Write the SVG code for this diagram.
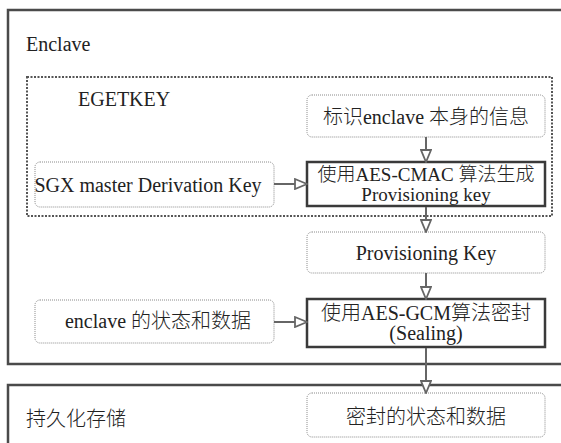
<svg xmlns="http://www.w3.org/2000/svg" width="561" height="443" viewBox="0 0 561 443">
  <defs>
    <marker id="head" viewBox="0 0 14 12" refX="13" refY="6" markerWidth="14" markerHeight="12" markerUnits="userSpaceOnUse" orient="auto">
      <path d="M1,1 L13,6 L1,11 Z" fill="#fff" stroke="#666" stroke-width="1.8" stroke-linejoin="miter"/>
    </marker>
    <style>
      text { font-family: "Liberation Serif", "Noto Sans CJK SC", serif; font-size: 20px; fill: #222; }
      .zh { font-family: "Noto Sans CJK SC", "Liberation Serif", sans-serif; font-weight: 300; }
      .tight { font-size: 19px; }
      .mid { text-anchor: middle; }
      .frame { fill: none; stroke: #4a4a4a; stroke-width: 2.5; }
      .group { fill: none; stroke: #555; stroke-width: 2; stroke-dasharray: 2 1.5; }
      .soft { fill: #fff; stroke: #8a8a8a; stroke-width: 1; stroke-dasharray: 1 1; }
      .strong { fill: #fff; stroke: #3a3a3a; stroke-width: 2.5; }
      .link { fill: none; stroke: #666; stroke-width: 2; marker-end: url(#head); }
    </style>
  </defs>

  <rect width="561" height="443" fill="#fff"/>

  <!-- enclave container -->
  <g id="enclave">
    <rect class="frame" x="8" y="10" width="570" height="354"/>
    <text x="26" y="51">Enclave</text>
  </g>

  <!-- key derivation group -->
  <g id="egetkey">
    <rect class="group" x="27" y="77" width="525" height="139"/>
    <text x="78" y="106">EGETKEY</text>
  </g>

  <!-- persistent storage container -->
  <g id="storage">
    <rect class="frame" x="8" y="385" width="570" height="70"/>
    <text x="26" y="426"><tspan class="zh">持久化存储</tspan></text>
  </g>

  <g id="identity">
    <rect class="soft" x="307" y="95" width="238" height="42" rx="5"/>
    <text class="mid" x="426" y="124"><tspan class="zh">标识</tspan>enclave <tspan class="zh">本身的信息</tspan></text>
  </g>

  <g id="master-key">
    <rect class="soft" x="35" y="162" width="239" height="45" rx="5"/>
    <text class="mid" x="148" y="192">SGX master Derivation Key</text>
  </g>

  <g id="cmac">
    <rect class="strong" x="307" y="162" width="238" height="44"/>
    <text class="mid tight" x="426" y="181"><tspan class="zh">使用</tspan>AES-CMAC <tspan class="zh">算法生成</tspan></text>
    <text class="mid tight" x="426" y="201">Provisioning key</text>
  </g>

  <g id="provisioning-key">
    <rect class="soft" x="307" y="232" width="238" height="41" rx="5"/>
    <text class="mid" x="426" y="260">Provisioning Key</text>
  </g>

  <g id="state-data">
    <rect class="soft" x="35" y="300" width="239" height="43" rx="5"/>
    <text class="mid" x="158" y="328">enclave <tspan class="zh">的状态和数据</tspan></text>
  </g>

  <g id="gcm">
    <rect class="strong" x="307" y="299" width="238" height="48"/>
    <text class="mid" x="426" y="320"><tspan class="zh">使用</tspan>AES-GCM<tspan class="zh">算法密封</tspan></text>
    <text class="mid" x="426" y="340">(Sealing)</text>
  </g>

  <g id="sealed">
    <rect class="soft" x="307" y="393" width="238" height="44" rx="5"/>
    <text class="mid" x="426" y="424"><tspan class="zh">密封的状态和数据</tspan></text>
  </g>

  <!-- connectors -->
  <g id="connectors">
    <line class="link" x1="426" y1="137" x2="426" y2="162"/>
    <line class="link" x1="274" y1="184" x2="307" y2="184"/>
    <line class="link" x1="426" y1="207" x2="426" y2="232"/>
    <line class="link" x1="426" y1="273" x2="426" y2="299"/>
    <line class="link" x1="274" y1="322" x2="307" y2="322"/>
    <line class="link" x1="426" y1="348" x2="426" y2="393"/>
  </g>
</svg>
